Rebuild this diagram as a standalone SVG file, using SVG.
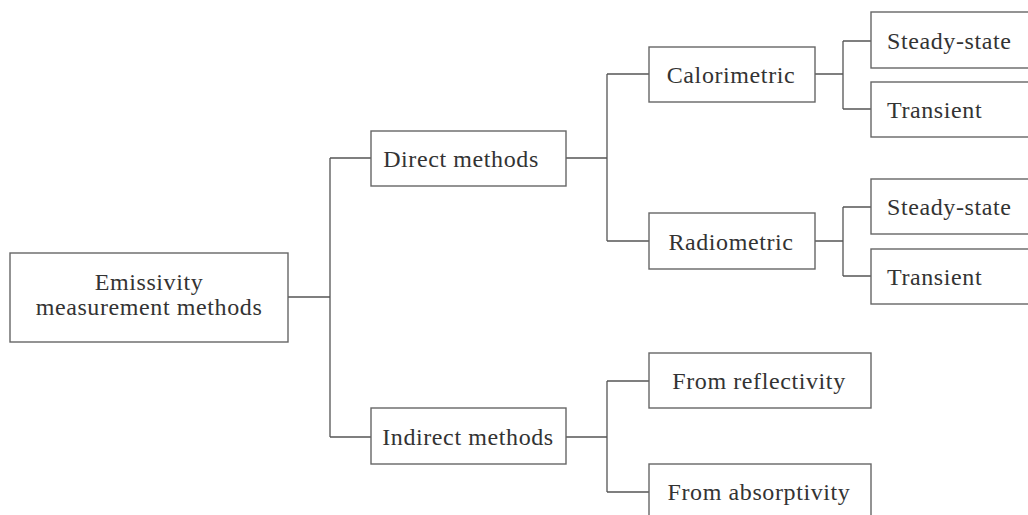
<svg xmlns="http://www.w3.org/2000/svg" width="1028" height="515" viewBox="0 0 1028 515">
<style>
.box{fill:#fff;stroke:#666;stroke-width:1.4}
.c{fill:none;stroke:#555;stroke-width:1.3}
text{font-family:"Liberation Serif","Times New Roman",serif;font-size:24px;fill:#333;letter-spacing:0.6px}
.m{text-anchor:middle}
</style>
<rect width="1028" height="515" fill="#fff"/>
<g id="connectors">
<path class="c" d="M288,297H330M330,158V437M330,158H371M330,437H371"/>
<path class="c" d="M566,158H607M607,74V241M607,74H649M607,241H649"/>
<path class="c" d="M815,74H843M843,41V109M843,41H871M843,109H871"/>
<path class="c" d="M815,241H843M843,207V276M843,207H871M843,276H871"/>
<path class="c" d="M566,437H607M607,381V492M607,381H649M607,492H649"/>
</g>
<g id="root"><rect class="box" x="10" y="253" width="278" height="89"/><text class="m" x="149" y="290">Emissivity</text><text class="m" x="149" y="315">measurement methods</text></g>
<g id="direct"><rect class="box" x="371" y="131" width="195" height="55"/><text class="m" x="461" y="167">Direct methods</text></g>
<g id="indirect"><rect class="box" x="371" y="408" width="195" height="56"/><text class="m" x="468" y="445">Indirect methods</text></g>
<g id="calorimetric"><rect class="box" x="649" y="47" width="166" height="55"/><text class="m" x="731" y="83">Calorimetric</text></g>
<g id="radiometric"><rect class="box" x="649" y="213" width="166" height="56"/><text class="m" x="731" y="250">Radiometric</text></g>
<g id="steady1"><rect class="box" x="871" y="12" width="200" height="56"/><text x="887" y="49">Steady-state</text></g>
<g id="transient1"><rect class="box" x="871" y="82" width="200" height="55"/><text x="887" y="118">Transient</text></g>
<g id="steady2"><rect class="box" x="871" y="179" width="200" height="55"/><text x="887" y="215">Steady-state</text></g>
<g id="transient2"><rect class="box" x="871" y="249" width="200" height="55"/><text x="887" y="285">Transient</text></g>
<g id="reflectivity"><rect class="box" x="649" y="353" width="222" height="55"/><text class="m" x="759" y="389">From reflectivity</text></g>
<g id="absorptivity"><rect class="box" x="649" y="464" width="222" height="60"/><text class="m" x="759" y="500">From absorptivity</text></g>
</svg>
